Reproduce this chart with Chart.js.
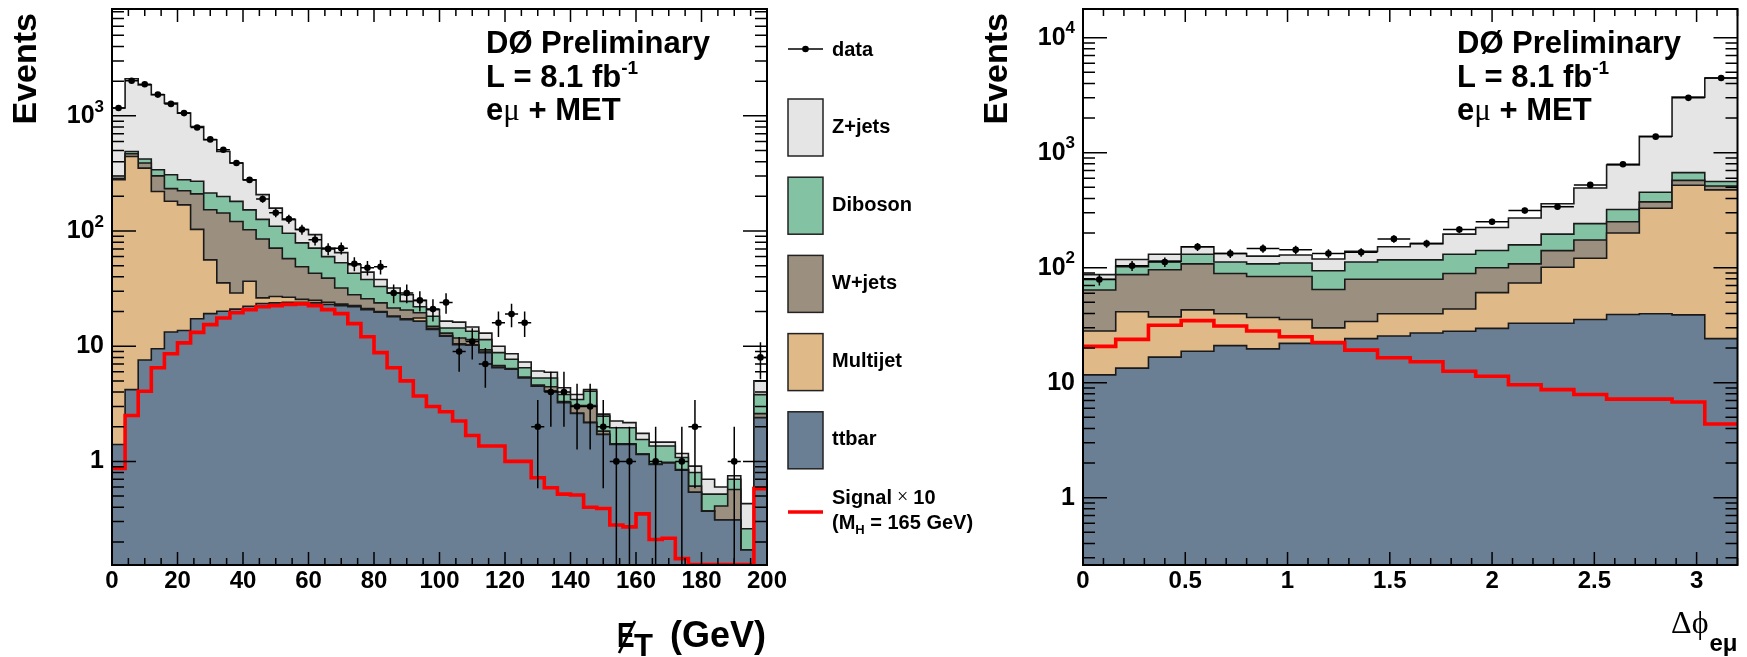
<!DOCTYPE html>
<html lang="en">
<head>
<meta charset="utf-8">
<title>e&mu; + MET control distributions</title>
<script src="https://cdn.jsdelivr.net/npm/chart.js@4.4.1/dist/chart.umd.min.js"></script>
<style>
  html, body { margin: 0; padding: 0; background: #ffffff; }
  #page { position: relative; width: 1747px; height: 657px; overflow: hidden; }
  #page canvas { position: absolute; left: 0; top: 0; }
</style>
</head>
<body>
<div id="page">
  <canvas id="metChart" width="1747" height="657"></canvas>
  <canvas id="dphiChart" width="1747" height="657"></canvas>
</div>
<script>
// Missing E_T: 50 bins of 4 GeV from 0 to 200 GeV (last bin holds the overflow)
const metBinWidth = 4;
const metTtbar = [1.4, 4.2, 7.6, 9.5, 13.3, 13.7, 17.3, 19.2, 20.1, 21.0,
  22.2, 23.5, 23.8, 24.0, 24.0, 23.8, 23.0, 22.5, 22.0, 20.8,
  19.7, 18.0, 17.0, 16.5, 14.0, 12.2, 10.3, 10.2, 8.8, 6.5,
  6.3, 5.3, 4.5, 4.07, 3.23, 2.61, 2.17, 1.71, 1.40, 1.40,
  1.15, 0.94, 0.97, 0.84, 0.54, 0.37, 0.31, 0.31, 0.17, 2.39];
const metMultijet = [278, 440, 344, 211, 168, 155, 86, 37, 15.4, 8.0,
  14.4, 2.8, 3.2, 2.6, 1.5, 1.2, 1.0, 0.7, 0.5, 0.4,
  0.3, 0.3, 0.3, 1.1, 0.3, 0.2, 0.2, 0.1, 0.1, 0.1,
  0, 0, 0, 0.03, 0.02, 0.01, 0.01, 0.01, 0.01, 0,
  0, 0, 0, 0, 0, 0, 0, 0, 0, 0.01];
const metWjets = [4, 25, 38, 81, 52, 55, 107, 97, 108, 92,
  66, 59, 44, 31, 23.5, 18, 15, 8.8, 5.5, 4.6,
  3.8, 3.2, 3.3, 1.9, 0.6, 0.6, 1.3, 1.1, 0.4, 0.2,
  0.1, 0.1, 0.1, 0.35, 0.05, 0.44, 0.88, 0.11, 0.01, 0.02,
  0.01, 0.01, 0.01, 0.01, 0.07, 0, 0.10, 0.26, 0, 0.2];
const metDiboson = [4, 22, 32, 39, 75, 55, 60, 61, 56, 60,
  50, 41, 39, 38, 30, 28, 21, 21, 15, 12.2,
  9.2, 7.5, 3.9, 2.5, 3.3, 1.4, 2.6, 2.1, 2.1, 2.0,
  1.3, 1.1, 0.7, 0.85, 0.51, 0.39, 1.01, 0.64, 0.54, 0.54,
  0.39, 0.41, 0.38, 0.23, 0.19, 0.15, 0.11, 0.13, 0.09, 1.2];
const metZjets = [883, 1609, 1438, 1184, 982, 778, 539, 406, 291, 209,
  126, 81, 48, 30, 24, 22, 11, 12, 8, 6,
  5, 3, 3.5, 3, 2.6, 2.1, 1.8, 1.2, 1.6, 1.2,
  0.9, 0.8, 0.8, 0.65, 0.55, 0.36, 0.13, 0.1, 0.28, 0.21,
  0.2, 0.11, 0.11, 0.09, 0.11, 0.18, 0.08, 0.05, 0.17, 1.2];
// Higgs signal, M_H = 165 GeV, scaled by 10
const metSignal = [0.87, 2.5, 4.07, 6.5, 8.6, 10.7, 13.2, 15.4, 17.6, 19.5,
  20.8, 22.0, 22.5, 23.1, 23.3, 22.5, 20.8, 19.2, 15.7, 12.1,
  8.8, 6.5, 5.0, 3.7, 3.0, 2.7, 2.24, 1.68, 1.36, 1.36,
  1.0, 1.0, 0.72, 0.59, 0.52, 0.51, 0.40, 0.39, 0.28, 0.27,
  0.35, 0.21, 0.215, 0.143, 0.127, 0.127, 0.127, 0.127, 0.127, 0.58];
const metData = [1170, 2015, 1880, 1530, 1270, 1057, 793, 625, 508, 390,
  278, 190, 144, 127, 103, 84, 70, 71, 52, 48,
  49, 29, 29, 25, 21, 24, 9, 11, 7, 16,
  19, 16, 2, 4, 4, 3, 3, 2, 1, 1,
  0, 1, 0, 1, 2, 0, 0, 1, 0, 8];
const metTickValues = [0, 20, 40, 60, 80, 100, 120, 140, 160, 180, 200];
const metTickLabels = ['0', '20', '40', '60', '80', '100', '120', '140', '160', '180', '200'];
const metYTickValues = [1, 10, 100, 1000];
const metYTickLabels = ['1', '10', '10^2', '10^3'];

// Delta phi(e, mu): 20 bins of 0.16 from 0 to 3.2
const dphiBinWidth = 0.16;
const dphiTtbar = [11.7, 13.4, 16.7, 18.8, 21.0, 19.7, 22.0, 22.0, 24.2, 25.5,
  27.1, 28.0, 29.7, 32.9, 32.9, 35.5, 39.2, 39.8, 38.9, 24.2];
const dphiMultijet = [16.5, 28.0, 20.7, 24.2, 18.8, 17.2, 13.5, 8.0, 9.9, 14.3,
  12.7, 15.7, 31.0, 40.7, 68.0, 85.5, 161, 289, 482, 451];
const dphiWjets = [35.8, 45.6, 58.6, 65.0, 49.2, 47.1, 48.5, 34.6, 45.3, 39.6,
  39.6, 45.3, 39.3, 34.4, 40.0, 53.0, 51.0, 45.0, 54.0, 38.0];
const dphiDiboson = [15.4, 15.0, 18.0, 23.0, 23.0, 24.0, 26.0, 29.4, 32.6, 37.6,
  37.6, 42.0, 41.0, 50.0, 55.0, 68.0, 70.0, 80.0, 96.0, 49.0];
const dphiZjets = [7.6, 16.0, 17.0, 21.0, 21.0, 18.0, 19.0, 25.0, 27.0, 35.0,
  45.0, 65.0, 83.0, 113, 164, 252, 461, 936, 2374, 3905];
const dphiSignal = [20.7, 23.8, 31.6, 34.7, 31.1, 28.2, 25.1, 22.4, 19.2, 16.5,
  15.2, 12.6, 11.4, 9.6, 8.7, 7.9, 7.2, 7.2, 6.8, 4.37];
const dphiData = [79, 104, 112, 152, 133, 147, 143, 133, 136, 178,
  162, 215, 251, 314, 339, 525, 794, 1380, 3000, 4467];
const dphiTickValues = [0, 0.5, 1, 1.5, 2, 2.5, 3];
const dphiTickLabels = ['0', '0.5', '1', '1.5', '2', '2.5', '3'];
const dphiYTickValues = [1, 10, 100, 1000, 10000];
const dphiYTickLabels = ['1', '10', '10^2', '10^3', '10^4'];

// stack is listed bottom-up
const stackNames = ['ttbar', 'Multijet', 'W+jets', 'Diboson', 'Z+jets'];
const sampleColors = {
  'Z+jets': '#e5e5e5',
  'Diboson': '#84c2a4',
  'W+jets': '#9b8f7f',
  'Multijet': '#dfb987',
  'ttbar': '#6a7f94'
};

const SANS = '"Liberation Sans", Arial, Helvetica, sans-serif';
const SERIF = '"Liberation Serif", "Times New Roman", serif';
const bold = px => `bold ${px}px ${SANS}`;

function binEdges(n, width) {
  const e = [];
  for (let i = 0; i <= n; i++) e.push(+(i * width).toFixed(4));
  return e;
}

// one point per lower bin edge plus the closing edge, drawn with stepped lines
function stepPoints(edges, values) {
  const pts = values.map((v, i) => ({ x: edges[i], y: v }));
  pts.push({ x: edges[edges.length - 1], y: values[values.length - 1] });
  return pts;
}

function cumulate(layers) {
  const sums = [];
  let run = layers[0].map(() => 0);
  layers.forEach(layer => {
    run = run.map((v, i) => v + layer[i]);
    sums.push(run);
  });
  return sums;
}

function buildDatasets(edges, layers, signal, data) {
  const sums = cumulate(layers);
  const stack = sums.map((s, k) => ({
    label: stackNames[k],
    data: stepPoints(edges, s),
    stepped: true,
    fill: 'start',
    backgroundColor: sampleColors[stackNames[k]],
    borderColor: '#1a1a1a',
    borderWidth: 1.6,
    pointRadius: 0
  }));
  const points = [];
  data.forEach((n, i) => {
    if (n > 0) points.push({ x: (edges[i] + edges[i + 1]) / 2, y: n });
  });
  // first dataset is painted last, so data sits on top and the total at the back
  return [
    { label: 'data', data: points, showLine: false, fill: false,
      pointRadius: 3.3, pointBackgroundColor: '#000', pointBorderWidth: 0 },
    { label: 'Signal', data: stepPoints(edges, signal), stepped: true, fill: false,
      borderColor: '#ff0000', borderWidth: 3.6, pointRadius: 0 },
    ...stack
  ];
}

function logTicks(min, max) {
  const out = [];
  for (let e = Math.floor(Math.log10(min)); e <= Math.ceil(Math.log10(max)); e++) {
    for (let m = 1; m <= 9; m++) {
      const v = m * Math.pow(10, e);
      if (v >= min && v <= max) out.push({ v, major: m === 1 });
    }
  }
  return out;
}

function linTicks(min, max, minorStep, majorStep) {
  const out = [];
  const n = Math.round((max - min) / minorStep);
  for (let i = 0; i <= n; i++) {
    const v = min + i * minorStep;
    const r = v / majorStep;
    out.push({ v, major: Math.abs(r - Math.round(r)) < 1e-6 });
  }
  return out;
}

// draws consecutive pieces of text: [text, font, dy]
function drawRuns(ctx, x, y, runs) {
  let cx = x;
  runs.forEach(([t, f, dy]) => {
    ctx.font = f;
    ctx.fillText(t, cx, y + (dy || 0));
    cx += ctx.measureText(t).width;
  });
  return cx;
}

function drawPowerLabel(ctx, text, xRight, yMid) {
  const [base, exp] = text.split('^');
  ctx.textAlign = 'left';
  ctx.textBaseline = 'middle';
  ctx.font = bold(25);
  const wb = ctx.measureText(base).width;
  let we = 0;
  if (exp) { ctx.font = bold(17); we = ctx.measureText(exp).width; }
  const x0 = xRight - wb - we;
  ctx.font = bold(25);
  ctx.fillText(base, x0, yMid);
  if (exp) { ctx.font = bold(17); ctx.fillText(exp, x0 + wb, yMid - 9); }
}

function drawInfoBlock(ctx, x) {
  ctx.fillStyle = '#000';
  ctx.textAlign = 'left';
  ctx.textBaseline = 'alphabetic';
  drawRuns(ctx, x, 53, [['DØ Preliminary', bold(31)]]);
  drawRuns(ctx, x, 87, [['L = 8.1 fb', bold(31)], ['-1', bold(19), -13]]);
  drawRuns(ctx, x, 120, [['e', bold(31)], ['μ', `31px ${SERIF}`], [' + MET', bold(31)]]);
}

function drawYTitle(ctx, cx, topY) {
  ctx.save();
  ctx.translate(cx, topY);
  ctx.rotate(-Math.PI / 2);
  ctx.font = bold(34);
  ctx.textAlign = 'right';
  ctx.textBaseline = 'middle';
  ctx.fillText('Events', 0, 0);
  ctx.restore();
}

// statistical error bars on the data points
function errorBarPlugin(edges, counts) {
  return {
    id: 'errorBars',
    afterDatasetsDraw(chart) {
      const { ctx, chartArea: a } = chart;
      const xs = chart.scales.x, ys = chart.scales.y;
      ctx.save();
      ctx.beginPath();
      ctx.rect(a.left, a.top, a.width, a.height);
      ctx.clip();
      ctx.strokeStyle = '#000';
      ctx.lineWidth = 1.5;
      ctx.beginPath();
      counts.forEach((n, i) => {
        if (n <= 0) return;
        const err = Math.sqrt(n);
        const px = xs.getPixelForValue((edges[i] + edges[i + 1]) / 2);
        const py = ys.getPixelForValue(n);
        const yTop = ys.getPixelForValue(n + err);
        const yBot = n - err > 0 ? ys.getPixelForValue(n - err) : a.bottom + 4;
        ctx.moveTo(px, yTop); ctx.lineTo(px, yBot);
        ctx.moveTo(xs.getPixelForValue(edges[i]), py);
        ctx.lineTo(xs.getPixelForValue(edges[i + 1]), py);
      });
      ctx.stroke();
      ctx.restore();
    }
  };
}

// ROOT style frame: inward ticks on all four sides, labels, titles
function framePlugin(o) {
  return {
    id: 'rootFrame',
    afterDraw(chart) {
      const { ctx, chartArea: a } = chart;
      const xs = chart.scales.x, ys = chart.scales.y;
      ctx.save();
      ctx.strokeStyle = '#000';
      ctx.fillStyle = '#000';
      ctx.lineWidth = 1.5;
      ctx.beginPath();
      o.xTicks.forEach(t => {
        const px = xs.getPixelForValue(t.v), len = t.major ? 13 : 7;
        ctx.moveTo(px, a.bottom); ctx.lineTo(px, a.bottom - len);
        ctx.moveTo(px, a.top); ctx.lineTo(px, a.top + len);
      });
      logTicks(ys.min, ys.max).forEach(t => {
        const py = ys.getPixelForValue(t.v), len = t.major ? 24 : 12;
        ctx.moveTo(a.left, py); ctx.lineTo(a.left + len, py);
        ctx.moveTo(a.right, py); ctx.lineTo(a.right - len, py);
      });
      ctx.stroke();
      ctx.lineWidth = 2;
      ctx.strokeRect(a.left, a.top, a.width, a.height);

      ctx.font = bold(24);
      ctx.textAlign = 'center';
      ctx.textBaseline = 'alphabetic';
      o.xLabelValues.forEach((v, i) => ctx.fillText(o.xLabels[i], xs.getPixelForValue(v), a.bottom + 23));
      o.yLabelValues.forEach((v, i) => drawPowerLabel(ctx, o.yLabels[i], a.left - 8, ys.getPixelForValue(v)));

      drawYTitle(ctx, o.yTitleX, 13);
      drawInfoBlock(ctx, a.left + 374);
      o.extras(ctx, a);
      ctx.restore();
    }
  };
}

function drawMetTitle(ctx, a) {
  ctx.textBaseline = 'alphabetic';
  ctx.font = bold(36);
  ctx.textAlign = 'right';
  ctx.fillText('(GeV)', a.right - 1, 647);
  ctx.textAlign = 'left';
  ctx.save();
  ctx.translate(617, 647);
  ctx.scale(0.75, 1);
  ctx.font = bold(35);
  ctx.fillText('E', 0, 0);
  ctx.restore();
  ctx.font = bold(31);
  ctx.fillText('T', 634, 656);
  // slash through the E
  ctx.lineWidth = 2.6;
  ctx.beginPath();
  ctx.moveTo(619, 653);
  ctx.lineTo(635, 621);
  ctx.stroke();
}

function drawDphiTitle(ctx, a) {
  ctx.textBaseline = 'alphabetic';
  ctx.textAlign = 'left';
  ctx.font = bold(24);
  const wSub = ctx.measureText('eμ').width;
  ctx.font = `32px ${SERIF}`;
  const wMain = ctx.measureText('Δϕ').width;
  const x0 = a.right - wSub - wMain - 1;
  ctx.fillText('Δϕ', x0, 633);
  ctx.font = bold(24);
  ctx.fillText('eμ', x0 + wMain + 1, 651);
}

function drawLegend(ctx) {
  const boxX = 788, boxW = 35, textX = 832;
  ctx.textAlign = 'left';
  ctx.textBaseline = 'middle';
  ctx.strokeStyle = '#000';
  ctx.fillStyle = '#000';
  ctx.lineWidth = 1.5;
  ctx.beginPath();
  ctx.moveTo(boxX, 49); ctx.lineTo(boxX + boxW, 49);
  ctx.stroke();
  ctx.beginPath();
  ctx.arc(boxX + boxW / 2, 49, 3.3, 0, 2 * Math.PI);
  ctx.fill();
  ctx.font = bold(20);
  ctx.fillText('data', textX, 50);

  const legendOrder = ['Z+jets', 'Diboson', 'W+jets', 'Multijet', 'ttbar'];
  legendOrder.forEach((name, k) => {
    const top = 99 + 78.2 * k;
    ctx.fillStyle = sampleColors[name];
    ctx.fillRect(boxX, top, boxW, 57);
    ctx.strokeStyle = '#222';
    ctx.lineWidth = 1.5;
    ctx.strokeRect(boxX, top, boxW, 57);
    ctx.fillStyle = '#000';
    ctx.font = bold(20);
    ctx.fillText(name, textX, top + 28);
  });

  ctx.strokeStyle = '#ff0000';
  ctx.lineWidth = 3.5;
  ctx.beginPath();
  ctx.moveTo(boxX, 512); ctx.lineTo(boxX + boxW, 512);
  ctx.stroke();
  ctx.fillStyle = '#000';
  drawRuns(ctx, textX, 498, [['Signal', bold(20)], [' × ', `20px ${SERIF}`], ['10', bold(20)]]);
  drawRuns(ctx, textX, 523, [['(M', bold(20)], ['H', bold(13), 7], [' = 165 GeV)', bold(20)]]);
}

function makeChart(canvasId, c) {
  const edges = binEdges(c.data.length, c.binWidth);
  return new Chart(document.getElementById(canvasId), {
    type: 'line',
    data: { datasets: buildDatasets(edges, c.layers, c.signal, c.data) },
    options: {
      responsive: false,
      animation: false,
      events: [],
      layout: { autoPadding: false, padding: c.padding },
      plugins: { legend: { display: false }, tooltip: { enabled: false } },
      scales: {
        x: { type: 'linear', min: c.xMin, max: c.xMax, bounds: 'data', display: false },
        y: { type: 'logarithmic', min: c.yMin, max: c.yMax, bounds: 'data', display: false }
      }
    },
    plugins: [
      errorBarPlugin(edges, c.data),
      framePlugin({
        xTicks: c.xTicks,
        xLabelValues: c.xLabelValues, xLabels: c.xLabels,
        yLabelValues: c.yLabelValues, yLabels: c.yLabels,
        yTitleX: c.yTitleX,
        extras: c.extras
      })
    ]
  });
}

makeChart('metChart', {
  binWidth: metBinWidth,
  layers: [metTtbar, metMultijet, metWjets, metDiboson, metZjets],
  signal: metSignal,
  data: metData,
  padding: { left: 112, right: 980, top: 9, bottom: 92 },
  xMin: 0, xMax: 200, yMin: 0.126, yMax: 8470,
  xTicks: linTicks(0, 200, 5, 20),
  xLabelValues: metTickValues, xLabels: metTickLabels,
  yLabelValues: metYTickValues, yLabels: metYTickLabels,
  yTitleX: 27,
  extras: (ctx, a) => { drawMetTitle(ctx, a); drawLegend(ctx); }
});

makeChart('dphiChart', {
  binWidth: dphiBinWidth,
  layers: [dphiTtbar, dphiMultijet, dphiWjets, dphiDiboson, dphiZjets],
  signal: dphiSignal,
  data: dphiData,
  padding: { left: 1083, right: 9.5, top: 9, bottom: 92 },
  xMin: 0, xMax: 3.2, yMin: 0.26, yMax: 17770,
  xTicks: linTicks(0, 3.2, 0.1, 0.5),
  xLabelValues: dphiTickValues, xLabels: dphiTickLabels,
  yLabelValues: dphiYTickValues, yLabels: dphiYTickLabels,
  yTitleX: 998,
  extras: (ctx, a) => drawDphiTitle(ctx, a)
});
</script>
</body>
</html>
